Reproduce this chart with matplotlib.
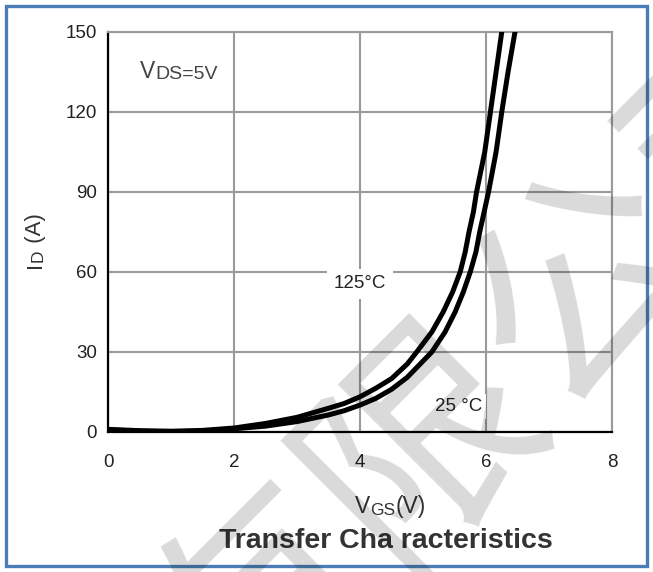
import matplotlib
matplotlib.use('Agg')
import matplotlib.pyplot as plt
from matplotlib.patches import Rectangle

# Datos (VGS en V, ID en A)
vgs_125 = [0.0, 0.5, 1.0, 1.5, 2.0, 2.5, 3.0, 3.5, 3.75, 4.0, 4.25, 4.5, 4.75, 4.90, 5.14,
           5.32, 5.47, 5.59, 5.67, 5.73, 5.80, 5.85, 5.98, 6.07, 6.16, 6.25]
id_125 = [1.0, 0.5, 0.3, 0.6, 1.5, 3.2, 5.5, 8.9, 10.7, 13.2, 16.4, 20.0, 25.5, 30, 37.5,
          45, 52.5, 60, 67.5, 75, 82.5, 90, 105, 120, 135, 150]

vgs_25 = [0.0, 0.5, 1.0, 1.5, 2.0, 2.5, 3.0, 3.5, 3.75, 4.0, 4.25, 4.5, 4.75, 5.14, 5.35,
          5.51, 5.64, 5.75, 5.84, 5.90, 5.97, 6.04, 6.16, 6.25, 6.35, 6.46]
id_25 = [0.8, 0.3, 0.1, 0.3, 1.2, 2.2, 3.9, 6.4, 8.0, 10.1, 12.6, 16.0, 20.5, 30, 37.5,
         45, 52.5, 60, 67.5, 75, 82.5, 90, 105, 120, 135, 150]

xticks = [0, 2, 4, 6, 8]
yticks = [0, 30, 60, 90, 120, 150]

W, H = 653, 572
plt.rcParams['font.family'] = ['Liberation Sans', 'DejaVu Sans']

fig = plt.figure(figsize=(W / 100, H / 100), dpi=100)
ax = fig.add_axes([108 / W, 1 - 432 / H, (612 - 108) / W, (432 - 32) / H])

ax.plot(vgs_125, id_125, color='black', lw=3.6, solid_joinstyle='round', zorder=3)
ax.plot(vgs_25, id_25, color='black', lw=3.6, solid_joinstyle='round', zorder=3)

ax.set_xlim(0, 8)
ax.set_ylim(0, 150)
ax.set_xticks(xticks)
ax.set_yticks(yticks)
ax.grid(True, color='#9a9a9a', lw=1.5)
ax.set_axisbelow(True)
ax.tick_params(length=0, labelsize=13.5, colors='#222222')
ax.tick_params(axis='x', pad=16)
ax.tick_params(axis='y', pad=8)
for s in ['left', 'bottom']:
    ax.spines[s].set_color('black')
    ax.spines[s].set_linewidth(1.6)
for s in ['top', 'right']:
    ax.spines[s].set_color('#9a9a9a')
    ax.spines[s].set_linewidth(1.5)

# Etiquetas de temperatura con fondo blanco
ax.text(4.0, 55.5, '125\u00b0C', fontsize=13.5, ha='center', va='center', color='#222222',
        bbox=dict(facecolor='white', edgecolor='none', pad=5), zorder=2)
ax.text(5.56, 9.6, '25 \u00b0C', fontsize=13.5, ha='center', va='center', color='#222222',
        bbox=dict(facecolor='white', edgecolor='none', pad=3), zorder=2)


def cadena(t0, piezas, rot=0):
    # encadena trozos de texto con distinto tamano (tipo versalita)
    prev = t0
    for s, fs in piezas:
        if rot == 90:
            prev = ax.annotate(s, xy=(1, 1), xycoords=prev, fontsize=fs, rotation=90,
                               ha='right', va='bottom', color=t0.get_color(),
                               annotation_clip=False)
        else:
            prev = ax.annotate(s, xy=(1, 0), xycoords=prev, fontsize=fs,
                               ha='left', va='bottom', color=t0.get_color(),
                               annotation_clip=False)
    return prev


t = fig.text(140 / W, 1 - 83 / H, 'V', fontsize=16.5, color='#444444', va='bottom')
cadena(t, [('DS=5V', 14)])

t = fig.text(355 / W, 1 - 518 / H, 'V', fontsize=16.5, color='#333333', va='bottom')
cadena(t, [('GS', 12.5), ('(V)', 16.5)])

t = fig.text(25 / W, 1 - 268 / H, 'I', fontsize=16, color='#333333', rotation=90,
             ha='left', va='bottom')
cadena(t, [('D', 12.5), (' (A)', 16)], rot=90)

fig.text(386 / W, 1 - 541 / H, 'Transfer Cha racteristics', fontsize=20.5, fontweight='bold',
         family=['Liberation Sans Narrow', 'Liberation Sans', 'DejaVu Sans'],
         color='#333333', ha='center', va='center')

# Marca de agua
fig.text(510 / W, 1 - 370 / H, '有限公司', fontsize=165, rotation=45, color='black', alpha=0.15,
         family=['Noto Sans CJK SC', 'DejaVu Sans'], ha='center', va='center', zorder=10)

# Marco azul
fig.patches.append(Rectangle((6 / W, 6 / H), (W - 12) / W, (H - 12) / H, transform=fig.transFigure,
                             fill=False, edgecolor='#4a7db5', lw=2.4, figure=fig))

fig.savefig('out.png', dpi=100)
